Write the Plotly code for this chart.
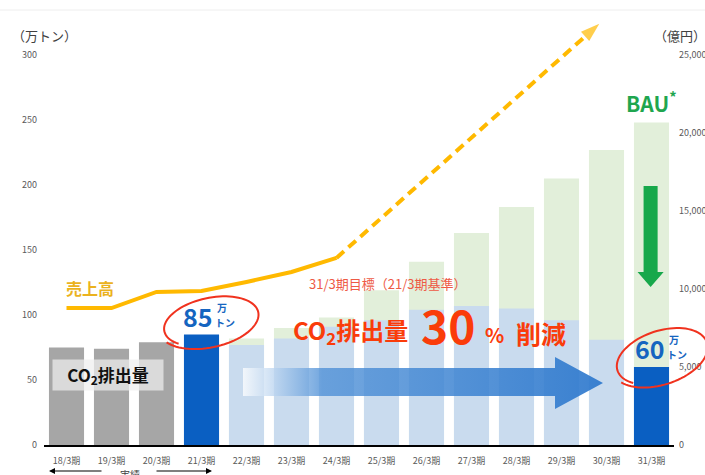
import numpy as np
import plotly.graph_objects as go

# ---------------- data ----------------
periods = ['18/3期', '19/3期', '20/3期', '21/3期', '22/3期', '23/3期', '24/3期',
           '25/3期', '26/3期', '27/3期', '28/3期', '29/3期', '30/3期', '31/3期']
actual_periods = ['18/3期', '19/3期', '20/3期']
actual_co2 = [75, 74, 79]                      # 万トン (gray, 実績)
key_periods = ['21/3期', '31/3期']
key_co2 = [85, 60]                             # 万トン (dark blue)
plan_periods = ['22/3期', '23/3期', '24/3期', '25/3期', '26/3期', '27/3期',
                '28/3期', '29/3期', '30/3期']
plan_co2 = [77, 82, 91, 96, 104, 107, 105, 96, 81]   # 万トン (light blue)
bau_periods = ['22/3期', '23/3期', '24/3期', '25/3期', '26/3期', '27/3期',
               '28/3期', '29/3期', '30/3期', '31/3期']
bau_co2 = [82, 90, 98, 119, 141, 163, 183, 205, 227, 248]   # 万トン (BAU, green)
sales_periods = ['18/3期', '19/3期', '20/3期', '21/3期', '22/3期', '23/3期', '24/3期']
sales = [8780, 8780, 9810, 9870, 10450, 11090, 11990]   # 億円 (売上高)
trend_pos = [6, 11.84]                 # 売上高 trend arrow (x position in period index)
trend_sales = [11990, 27000]           # 億円
left_ticks = [0, 50, 100, 150, 200, 250, 300]
right_ticks = [0, 5000, 10000, 15000, 20000, 25000]

idx = {p: i for i, p in enumerate(periods)}

# ---------------- geometry helpers ----------------
W, H = 705, 475
PL, PR, PT, PB = 44, 674, 12, 445
LEFT_MAX = (PB - PT) / 1.3
RIGHT_MAX = LEFT_MAX / 300 * 25000


def px(x):
    return (x - PL) / (PR - PL)


def py(y):
    return (PB - y) / (PB - PT)


def dx(x):  # pixel -> data x (period index)
    return -0.5 + (x - PL) / (PR - PL) * 14


def dy(y):  # pixel -> left axis value
    return (PB - y) / 1.3


FONT = 'Noto Sans CJK JP, sans-serif'
BAR_W = 0.78

fig = go.Figure()

fig.add_trace(go.Bar(x=[idx[p] for p in bau_periods], y=bau_co2, width=BAR_W,
                     marker=dict(color='#E2EFDA', line=dict(width=0)), hoverinfo='skip'))
fig.add_trace(go.Bar(x=[idx[p] for p in plan_periods], y=plan_co2, width=BAR_W,
                     marker=dict(color='#C9DBEE', line=dict(width=0)), hoverinfo='skip'))
fig.add_trace(go.Bar(x=[idx[p] for p in actual_periods], y=actual_co2, width=BAR_W,
                     marker=dict(color='#A6A6A6', line=dict(width=0)), hoverinfo='skip'))
fig.add_trace(go.Bar(x=[idx[p] for p in key_periods], y=key_co2, width=BAR_W,
                     marker=dict(color='#0A5FC2', line=dict(width=0)), hoverinfo='skip'))

# big gradient arrow (reduction)
ax_x = [dx(243), dx(555), dx(555), dx(603), dx(555), dx(555), dx(243), dx(243)]
ax_y = [dy(368), dy(368), dy(357), dy(383), dy(409), dy(396), dy(396), dy(368)]
fig.add_trace(go.Scatter(
    x=ax_x, y=ax_y, mode='lines', line=dict(width=0), fill='toself',
    fillgradient=dict(type='horizontal', start=dx(243), stop=dx(603),
                      colorscale=[[0, 'rgba(255,255,255,0.75)'],
                                  [0.22, 'rgba(80,145,215,0.8)'],
                                  [1, 'rgba(45,120,205,0.92)']]),
    hoverinfo='skip'))

# green BAU arrow
cx = idx['31/3期'] - 0.02
gx = [cx - 0.156, cx + 0.156, cx + 0.156, cx + 0.29, cx, cx - 0.29, cx - 0.156, cx - 0.156]
gy = [dy(186), dy(186), dy(272), dy(272), dy(287), dy(272), dy(272), dy(186)]
fig.add_trace(go.Scatter(x=gx, y=gy, mode='lines', line=dict(width=0), fill='toself',
                         fillcolor='#17A84B', hoverinfo='skip'))

# sales line
fig.add_trace(go.Scatter(x=[idx[p] for p in sales_periods], y=sales, yaxis='y2', mode='lines',
                         line=dict(color='#FFB900', width=4), hoverinfo='skip'))
fig.add_trace(go.Scatter(x=trend_pos, y=trend_sales, yaxis='y2', mode='lines+markers',
                         line=dict(color='#FFB900', width=4, dash='10px,6px'),
                         marker=dict(symbol=['circle', 'arrow'], size=[0, 20], color='#FFB900',
                                     angleref='previous', line=dict(width=0)),
                         cliponaxis=False, hoverinfo='skip'))


def ann(text, x, y, size, color, bold=False, **kw):
    t = f'<b>{text}</b>' if bold else text
    d = dict(text=t, x=px(x), y=py(y), xref='paper', yref='paper', showarrow=False,
             font=dict(family=FONT, size=size, color=color), xanchor='center', yanchor='middle')
    d.update(kw)
    return d


annotations = [
    ann('（万トン）', 44, 35, 13, '#404040'),
    ann('（億円）', 680, 35, 13, '#404040'),
    ann('売上高', 90, 288, 16, '#EBB21E', bold=True),
    ann('85', 198, 316, 25, '#1565C0', bold=True),
    ann('万', 222, 307, 10, '#1565C0', bold=True),
    ann('トン', 225, 322, 10, '#1565C0', bold=True),
    ann('60', 650, 348, 25, '#1565C0', bold=True),
    ann('万', 674, 339, 10, '#1565C0', bold=True),
    ann('トン', 677, 354, 10, '#1565C0', bold=True),
    ann('31/3期目標（21/3期基準）', 388, 283, 13, '#EE5A45'),
    ann('CO<sub>2</sub>排出量', 350, 331, 24, '#FA3C0A', bold=True),
    ann('30', 448, 324, 46, '#FA3C0A', bold=True),
    ann('%', 494, 334, 20, '#FA3C0A', bold=True),
    ann('削減', 541, 333, 25, '#FA3C0A', bold=True),
    ann('CO<sub>2</sub>排出量', 108, 375, 17, '#111111', bold=True,
        bgcolor='rgba(238,238,238,0.72)', width=108, height=28),
    ann('BAU<sup>*</sup>', 651, 102, 21, '#1FA64F', bold=True),
    ann('実績', 130, 474, 10, '#404040'),
    dict(text='', x=px(49), y=py(471), xref='paper', yref='paper', showarrow=True,
         ax=54, ay=0, arrowhead=2, arrowsize=1, arrowwidth=1.2, arrowcolor='#000000'),
    dict(text='', x=px(212), y=py(471), xref='paper', yref='paper', showarrow=True,
         ax=-57, ay=0, arrowhead=2, arrowsize=1, arrowwidth=1.2, arrowcolor='#000000'),
]


def hand_loop(cxp, cyp, rx, ry, rot, t0, sweep, grow):
    t = np.linspace(0, 1, 90)
    a = np.radians(t0 + sweep * t)
    r = 1 + grow * t
    ex, ey = rx * r * np.cos(a), ry * r * np.sin(a)
    c, s = np.cos(np.radians(rot)), np.sin(np.radians(rot))
    xs, ys = cxp + ex * c - ey * s, cyp + ex * s + ey * c
    pts = [f'{px(x):.5f},{py(y):.5f}' for x, y in zip(xs, ys)]
    return 'M ' + ' L '.join(pts)


shapes = [
    dict(type='path', xref='paper', yref='paper',
         path=hand_loop(210, 322, 46, 23, -12, 140, 375, 0.12),
         line=dict(color='#F0321E', width=2)),
    dict(type='path', xref='paper', yref='paper',
         path=hand_loop(661, 357, 45, 25, -18, 140, 375, 0.12),
         line=dict(color='#F0321E', width=2)),
    dict(type='line', xref='paper', yref='paper', x0=px(0), x1=px(W), y0=py(10), y1=py(10),
         line=dict(color='#EEEEEE', width=1)),
]

fig.update_layout(
    width=W, height=H, margin=dict(l=PL, r=W - PR, t=PT, b=H - PB, pad=0, autoexpand=False),
    paper_bgcolor='white', plot_bgcolor='white', barmode='overlay', showlegend=False,
    font=dict(family=FONT, size=9, color='#595959'),
    xaxis=dict(range=[-0.5, 13.5], tickvals=list(range(14)), ticktext=periods, automargin=False,
               showline=True, linecolor='#000000', linewidth=2, ticks='', showgrid=False,
               zeroline=False, tickfont=dict(size=9, color='#595959'), ticklabelstandoff=6),
    yaxis=dict(range=[0, LEFT_MAX], tickvals=left_ticks, showgrid=False, zeroline=False,
               showline=False, ticks='', tickfont=dict(size=9, color='#595959'),
               ticklabelstandoff=6, automargin=False),
    yaxis2=dict(range=[0, RIGHT_MAX], tickvals=right_ticks, tickformat=',', overlaying='y',
                side='right', showgrid=False, zeroline=False, showline=False, ticks='',
                tickfont=dict(size=9, color='#595959'), ticklabelstandoff=4, automargin=False),
    annotations=annotations, shapes=shapes,
)

post = (
    "document.documentElement.style.margin='0';"
    "document.documentElement.style.overflow='hidden';"
    "document.body.style.margin='0';"
    "document.body.style.overflow='hidden';"
)
fig.write_html('out.html', config={'displayModeBar': False}, post_script=post)
